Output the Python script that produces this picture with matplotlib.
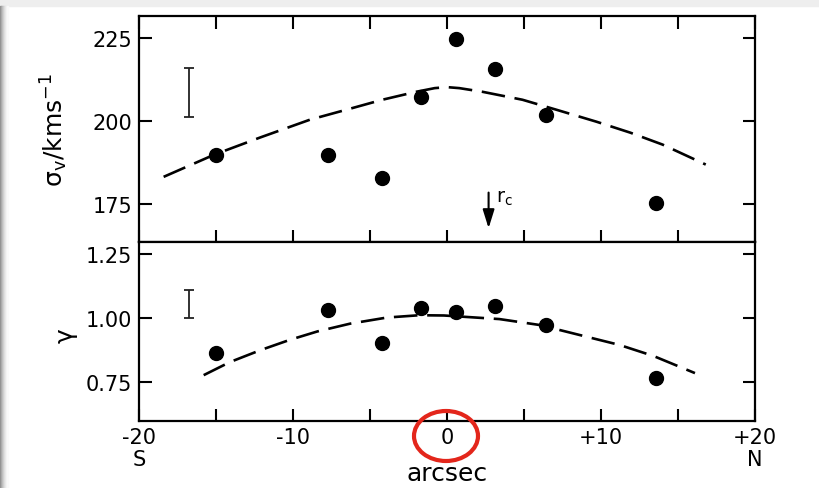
import matplotlib
matplotlib.use('Agg')
import matplotlib.pyplot as plt
from matplotlib.patches import Ellipse, Rectangle
from matplotlib.transforms import blended_transform_factory

plt.rcParams['font.family'] = ['DejaVu Sans']
plt.rcParams['mathtext.fontset'] = 'dejavusans'
plt.rcParams['lines.scale_dashes'] = False

# data (x in arcsec)
pos = [-15.0, -7.7, -4.2, -1.7, 0.6, 3.1, 6.4, 13.6]
sigma = [189.8, 189.8, 182.8, 207.2, 224.7, 215.7, 201.8, 175.3]
gamma = [0.862, 1.031, 0.902, 1.038, 1.025, 1.046, 0.972, 0.765]

sig_fit_x = [-18.4, -15.1, -12.1, -8.9, -6.3, -4.2, -2.0, -0.8, 0.0, 0.8,
             2.3, 4.9, 7.1, 9.7, 11.9, 14.0, 16.8]
sig_fit_y = [183.1, 189.8, 195.0, 200.3, 203.6, 206.3, 208.7, 209.8, 210.1,
             209.8, 208.7, 206.3, 203.3, 199.7, 196.4, 192.8, 186.8]
gam_fit_x = [-15.8, -14.1, -12.1, -10.2, -8.4, -6.3, -3.9, -1.8, -0.2,
             3.4, 6.0, 8.6, 11.2, 13.4, 16.1]
gam_fit_y = [0.777, 0.828, 0.875, 0.915, 0.948, 0.978, 1.002, 1.011, 1.010,
             0.996, 0.973, 0.934, 0.895, 0.852, 0.785]

sig_err = (-16.75, 208.5, 7.5)
gam_err = (-16.75, 1.055, 0.055)
r_core = 2.7

fig = plt.figure(figsize=(8.19, 4.89), dpi=100)
ax1 = fig.add_axes([0.1697, 0.5031, 0.7522, 0.4621])
ax2 = fig.add_axes([0.1697, 0.1370, 0.7522, 0.3661])

for ax in (ax1, ax2):
    ax.set_xlim(-20, 20)
    ax.set_xticks(range(-20, 21, 5))
    for s in ax.spines.values():
        s.set_linewidth(1.6)
    ax.tick_params(direction='in', length=9, width=1.5, labelsize=15, pad=5,
                   right=True)

dash = (17, 7)
ax1.plot(sig_fit_x, sig_fit_y, color='black', lw=1.9, dashes=dash)
ax1.plot(pos, sigma, 'o', color='black', ms=10)
ax1.errorbar([sig_err[0]], [sig_err[1]], yerr=[sig_err[2]], fmt='none',
             ecolor='#222222', elinewidth=1.3, capsize=3.4, capthick=1.3)
ax1.annotate('', xy=(r_core, 166.8), xytext=(r_core, 179.2),
             arrowprops=dict(arrowstyle='-|>,head_width=0.25,head_length=0.8',
                             color='black', lw=1.5, mutation_scale=14))
ax1.text(r_core + 0.45, 179.8, r'$\mathrm{r_c}$', fontsize=14, va='top')
ax1.set_ylim(163.5, 231.5)
ax1.set_yticks([175, 200, 225])
ax1.tick_params(axis='x', top=True, labelbottom=False)
ax1.set_ylabel(r'$\mathrm{σ_v}$/kms$^{-1}$', fontsize=18)
ax1.yaxis.set_label_coords(-0.112, 0.5)

ax2.plot(gam_fit_x, gam_fit_y, color='black', lw=1.9, dashes=dash)
ax2.plot(pos, gamma, 'o', color='black', ms=10)
ax2.errorbar([gam_err[0]], [gam_err[1]], yerr=[gam_err[2]], fmt='none',
             ecolor='#222222', elinewidth=1.3, capsize=3.4, capthick=1.3)
ax2.set_ylim(0.598, 1.297)
ax2.set_yticks([0.75, 1.0, 1.25])
ax2.set_yticklabels(['0.75', '1.00', '1.25'])
ax2.set_xticklabels(['-20', '', '-10', '', '0', '', '+10', '', '+20'])
ax2.tick_params(axis='x', top=False, pad=4)
ax2.set_ylabel('γ', fontsize=18)
ax2.yaxis.set_label_coords(-0.099, 0.48)
ax2.set_xlabel('arcsec', fontsize=18, va='top')
ax2.xaxis.set_label_coords(0.5, -0.223)

trans = blended_transform_factory(ax2.transData, ax2.transAxes)
ax2.text(-20, -0.212, 'S', transform=trans, ha='center', va='center', fontsize=15)
ax2.text(20, -0.212, 'N', transform=trans, ha='center', va='center', fontsize=15)

# slide shadow and red highlight circle (figure pixels)
H = 489
fig.patches.append(Rectangle((0, H - 7), 819, 7, transform=None,
                             color='#eeeeee', zorder=-1))
for i, c in enumerate(['#8f8f8f', '#a6a6a6', '#bbbbbb', '#cdcdcd',
                       '#dcdcdc', '#e8e8e8', '#f2f2f2', '#f9f9f9']):
    fig.patches.append(Rectangle((i, 0), 1, H - 7, transform=None,
                                 color=c, zorder=-1))
fig.patches.append(Ellipse((446, H - 437), 64, 50, transform=None,
                           fill=False, edgecolor='#e3261b', lw=3))

fig.savefig('out.png', dpi=100)
